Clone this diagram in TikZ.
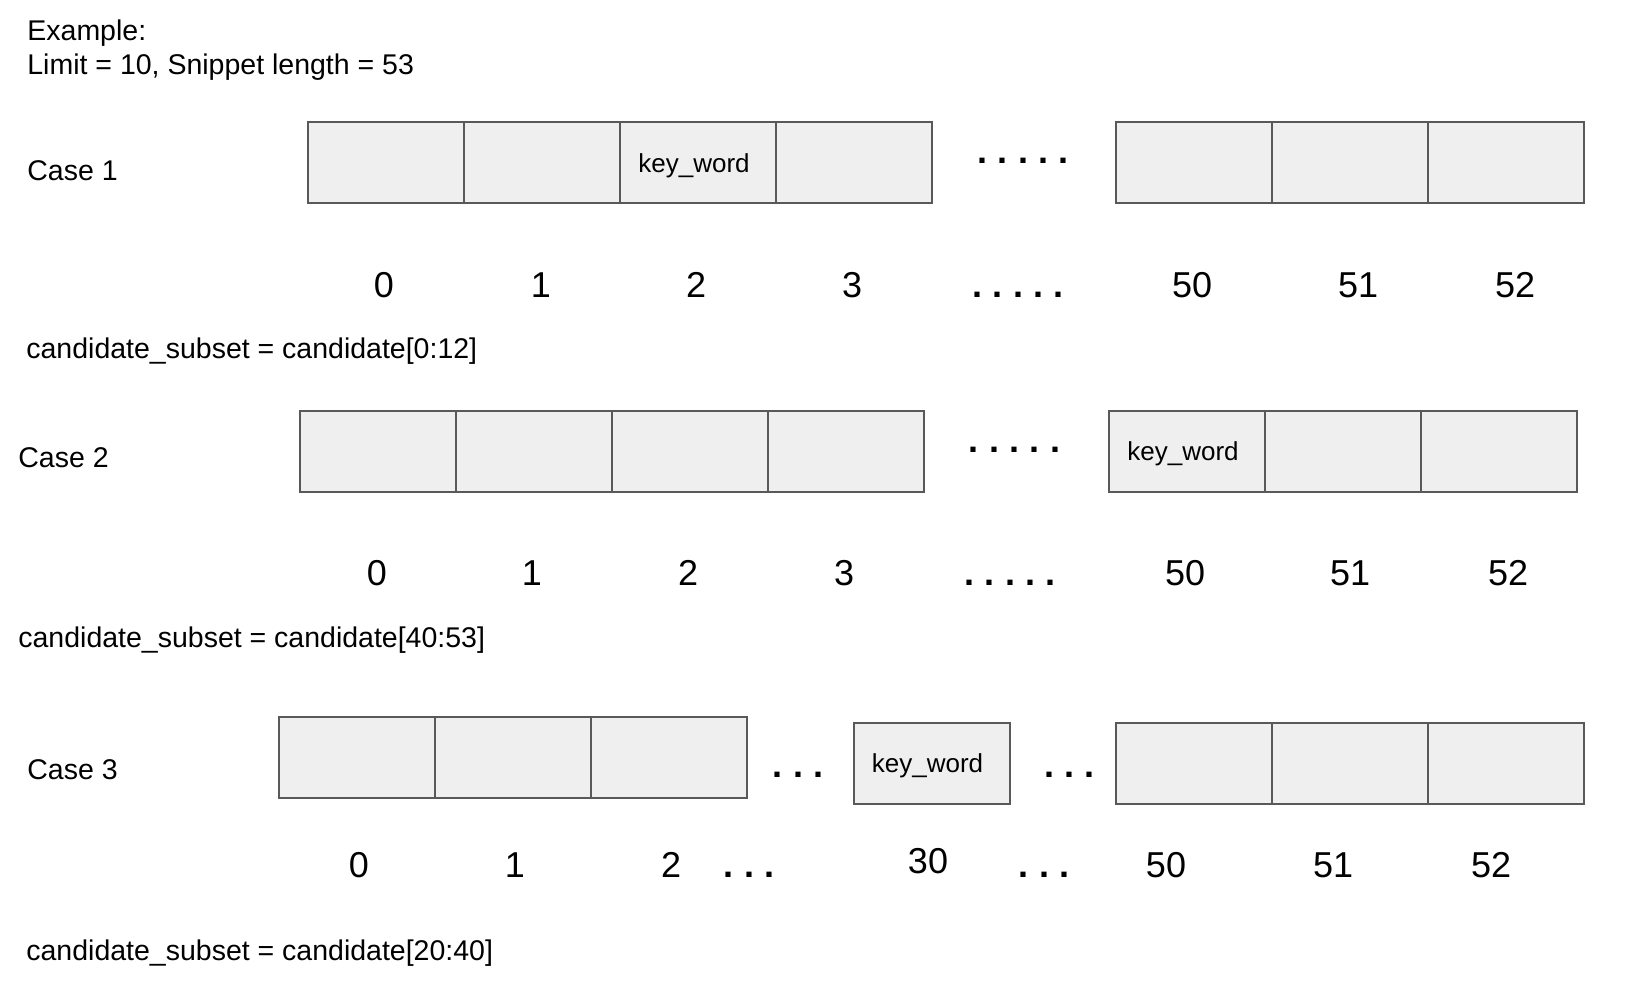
\documentclass[tikz,border=0pt]{standalone}
\usepackage{fontspec}
\setmainfont{Liberation Sans}
\definecolor{cellfill}{HTML}{EFEFEF}
\definecolor{cellline}{HTML}{595959}
\newcommand\dgap{\kern5.15pt}
\newcommand\fivedots{.\dgap.\dgap.\dgap.\dgap.}
\newcommand\threedots{.\dgap.\dgap.}
\newcommand\kw{\kern-4pt key\_word}
\tikzset{
  px/.style={x=0.5pt,y=-0.5pt},
  cell/.style={draw=cellline, fill=cellfill, line width=1pt,
    minimum width=78pt, minimum height=40.5pt, inner sep=0pt, outer sep=0pt,
    text height=10pt, text depth=0.5pt, font=\fontsize{13}{15}\selectfont},
  lbl/.style={anchor=base west, inner sep=0pt, font=\fontsize{14.25}{17}\selectfont},
  idx/.style={anchor=base, inner sep=0pt, font=\fontsize{18}{21}\selectfont},
  dts/.style={anchor=base, inner sep=0pt, font=\fontsize{18}{21}\selectfont\bfseries},
}
\begin{document}
\begin{tikzpicture}[px]
\useasboundingbox[fill=white] (0,0) rectangle (1636,992);
\node[lbl] (ex) at (27,40) {Example:};
\node[lbl] (lim) at (27,74) {Limit = 10, Snippet length = 53};
% ---------- Case 1
\node[lbl] (c1) at (27,180) {Case 1};
\node[cell] (a0) at (386,162.5) {};
\node[cell] (a1) at (542,162.5) {};
\node[cell] (a2) at (698,162.5) {\kw};
\node[cell] (a3) at (854,162.5) {};
\node[dts] (ad) at (1023,163.5) {\fivedots};
\node[cell] (a50) at (1194,162.5) {};
\node[cell] (a51) at (1350,162.5) {};
\node[cell] (a52) at (1506,162.5) {};
\node[idx] (an0) at (384,297) {0};
\node[idx] (an1) at (541,297) {1};
\node[idx] (an2) at (696,297) {2};
\node[idx] (an3) at (852,297) {3};
\node[dts] (and) at (1018,297) {\fivedots};
\node[idx] (an50) at (1192,297) {50};
\node[idx] (an51) at (1358,297) {51};
\node[idx] (an52) at (1515,297) {52};
\node[lbl] (s1) at (26,358) {candidate\_subset = candidate[0:12]};
% ---------- Case 2
\node[lbl] (c2) at (18,467) {Case 2};
\node[cell] (b0) at (378,451) {};
\node[cell] (b1) at (534,451) {};
\node[cell] (b2) at (690,451) {};
\node[cell] (b3) at (846,451) {};
\node[dts] (bd) at (1014.5,452.5) {\fivedots};
\node[cell] (b50) at (1187,451) {\kw};
\node[cell] (b51) at (1343,451) {};
\node[cell] (b52) at (1499,451) {};
\node[idx] (bn0) at (377,585) {0};
\node[idx] (bn1) at (532,585) {1};
\node[idx] (bn2) at (688,585) {2};
\node[idx] (bn3) at (844,585) {3};
\node[dts] (bnd) at (1010,585) {\fivedots};
\node[idx] (bn50) at (1185,585) {50};
\node[idx] (bn51) at (1350,585) {51};
\node[idx] (bn52) at (1508,585) {52};
\node[lbl] (s2) at (18,647) {candidate\_subset = candidate[40:53]};
% ---------- Case 3
\node[lbl] (c3) at (27,779) {Case 3};
\node[cell] (d0) at (357,757.5) {};
\node[cell] (d1) at (513,757.5) {};
\node[cell] (d2) at (669,757.5) {};
\node[dts] (dd1) at (798,777.5) {\threedots};
\node[cell] (d30) at (931.5,763) {\kw};
\node[dts] (dd2) at (1069.5,777.5) {\threedots};
\node[cell] (d50) at (1194,763) {};
\node[cell] (d51) at (1350,763) {};
\node[cell] (d52) at (1506,763) {};
\node[idx] (dn0) at (359,877) {0};
\node[idx] (dn1) at (515,877) {1};
\node[idx] (dn2) at (671,877) {2};
\node[dts] (dnd1) at (749,877) {\threedots};
\node[idx] (dn30) at (928,873) {30};
\node[dts] (dnd2) at (1044,877) {\threedots};
\node[idx] (dn50) at (1166,877) {50};
\node[idx] (dn51) at (1333,877) {51};
\node[idx] (dn52) at (1491,877) {52};
\node[lbl] (s3) at (26,960) {candidate\_subset = candidate[20:40]};
\end{tikzpicture}
\end{document}
